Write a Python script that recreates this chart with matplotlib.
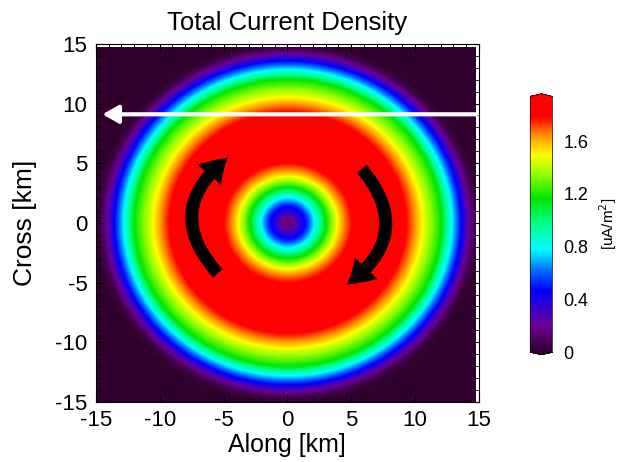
import numpy as np
import matplotlib
matplotlib.use("Agg")
import matplotlib.pyplot as plt
from matplotlib.colors import LinearSegmentedColormap
from matplotlib.patches import FancyArrowPatch

plt.rcParams['font.family'] = ['Liberation Sans', 'DejaVu Sans']
plt.rcParams['axes.unicode_minus'] = False

# radial profile of the current density
radius_km = [0.0, 0.5, 1.0, 1.5, 2.1, 3.0, 3.9, 4.4, 5.0, 6.0, 7.5, 8.5,
             9.3, 9.9, 10.5, 12.0, 12.8, 13.6, 14.2, 14.7, 15.2, 30.0]
density = [0.12, 0.2, 0.38, 0.52, 0.78, 1.17, 1.5, 1.65, 1.78, 1.95, 2.0, 1.95,
           1.78, 1.65, 1.5, 1.17, 0.8, 0.46, 0.2, 0.05, 0.0, 0.0]

cbar_ticks = [0, 0.4, 0.8, 1.2, 1.6]
cbar_labels = ['0', '0.4', '0.8', '1.2', '1.6']
vmax = 1.94

cmap_pos = [0.0, 0.1, 0.24, 0.32, 0.40, 0.50, 0.60, 0.70, 0.77, 0.85, 0.92, 1.0]
cmap_col = [(0.19, 0.0, 0.18), (0.42, 0.0, 0.58), (0.0, 0.0, 1.0), (0.0, 0.45, 1.0),
            (0.0, 1.0, 1.0), (0.0, 1.0, 0.55), (0.0, 0.9, 0.0), (0.6, 1.0, 0.0),
            (1.0, 1.0, 0.0), (1.0, 0.55, 0.0), (1.0, 0.0, 0.0), (1.0, 0.0, 0.0)]
cmap = LinearSegmentedColormap.from_list('jrain', list(zip(cmap_pos, cmap_col)))

x = np.linspace(-15, 14.7, 400)
y = np.linspace(-15, 14.7, 400)
X, Y = np.meshgrid(x, y)
R = np.sqrt(X**2 + Y**2)
J = np.interp(R, radius_km, density)

fig = plt.figure(figsize=(6.18, 4.62), dpi=100)
ax = fig.add_axes([0.155, 0.13, 0.62, 0.775])
im = ax.imshow(J, extent=[-15, 14.7, -15, 14.7], origin='lower', cmap=cmap,
               vmin=0, vmax=vmax, interpolation='bilinear', aspect='auto')
ax.set_xlim(-15, 15)
ax.set_ylim(-15, 15)
ax.set_xticks(np.arange(-15, 16, 5))
ax.set_yticks(np.arange(-15, 16, 5))
ax.set_xticks(np.arange(-15, 16, 1), minor=True)
ax.set_yticks(np.arange(-15, 16, 1), minor=True)
ax.tick_params(which='both', direction='in', top=True, right=True, color='black')
ax.tick_params(which='major', length=6, labelsize=16)
ax.tick_params(axis='x', which='major', pad=6)
ax.tick_params(axis='y', which='major', pad=6)
ax.tick_params(which='minor', length=3)
ax.set_xlabel('Along [km]', fontsize=18, labelpad=1)
ax.set_ylabel('Cross [km]', fontsize=19, labelpad=13)
ax.set_title('Total Current Density', fontsize=18.5, pad=10)

# white track arrow
ax.annotate('', xy=(-14.7, 9.1), xytext=(15, 9.1),
            arrowprops=dict(arrowstyle='-|>,head_length=0.8,head_width=0.45',
                            color='white', lw=3, mutation_scale=12))

# rotation arrows
for tail, head in [((-5.3, -4.4), (-4.5, 5.6)), ((5.7, 4.7), (4.5, -5.3))]:
    arr = FancyArrowPatch(tail, head, connectionstyle='arc3,rad=-0.55',
                          arrowstyle='simple,tail_width=0.5,head_width=1.25,head_length=1.0',
                          mutation_scale=18, color='black', lw=0)
    ax.add_patch(arr)

cax = fig.add_axes([0.858, 0.232, 0.036, 0.565])
cb = fig.colorbar(im, cax=cax, extend='both', extendfrac=0.01)
cb.set_ticks(cbar_ticks)
cb.set_ticklabels(cbar_labels)
cb.ax.tick_params(length=0, labelsize=13, pad=8)
cb.outline.set_linewidth(0.5)
cb.set_label('[uA/m$^2$]', fontsize=11, labelpad=6)

fig.savefig('out.png', dpi=100)
